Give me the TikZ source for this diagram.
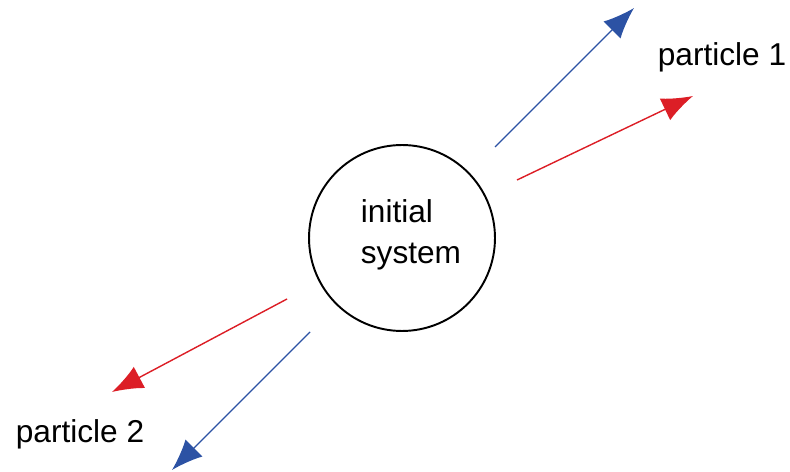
\documentclass[tikz,border=0pt]{standalone}
\usepackage{fontspec}
\setmainfont{Liberation Sans}
\usetikzlibrary{arrows.meta}
\definecolor{pblue}{RGB}{44,82,164}
\definecolor{pred}{RGB}{220,30,38}

\begin{document}
\begin{tikzpicture}[x=0.02cm,y=-0.02cm,
  every node/.style={font=\fontsize{18}{23}\selectfont},
  sysnode/.style={draw,circle,line width=1.1pt,minimum size=3.72cm,inner sep=0pt},
  barr/.style={-{Latex[length=0.62cm,width=0.48cm]},line width=0.8pt,draw=pblue,fill=pblue},
  rarr/.style={-{Latex[length=0.62cm,width=0.48cm]},line width=0.8pt,draw=pred,fill=pred}
]
\useasboundingbox (0,0) rectangle (790,472);
\node[sysnode] (sys) at (402,238) {};
\node[align=left] (systxt) at (411,235) {initial\\system};
\node (p1) at (722,57) {particle 1};
\node (p2) at (80,434) {particle 2};
% outgoing pairs
\coordinate (b1s) at (495,147);
\coordinate (b1e) at (634,8);
\coordinate (r1s) at (517,180);
\coordinate (r1e) at (693,96);
\coordinate (r2s) at (287,299);
\coordinate (r2e) at (112,392);
\coordinate (b2s) at (310,332);
\coordinate (b2e) at (172,470);
\draw[barr] (b1s) -- (b1e);
\draw[rarr] (r1s) -- (r1e);
\draw[rarr] (r2s) -- (r2e);
\draw[barr] (b2s) -- (b2e);
\end{tikzpicture}
\end{document}
